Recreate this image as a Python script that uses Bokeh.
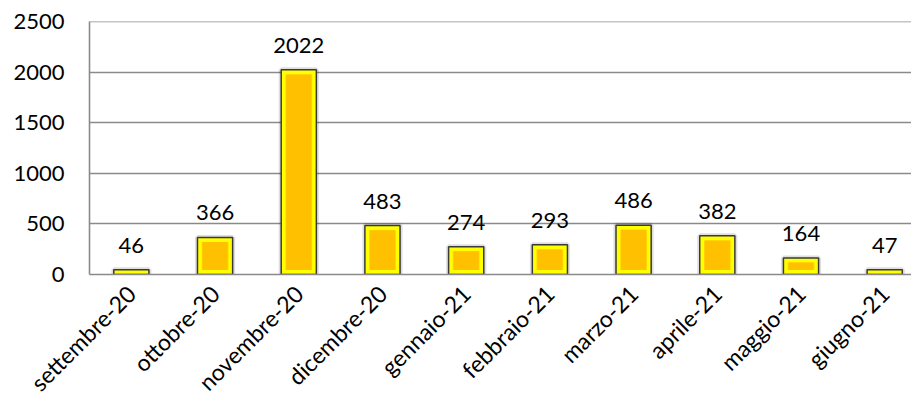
import numpy as np
from bokeh.plotting import figure
from bokeh.models import Range1d, FixedTicker, ColumnDataSource, LabelSet, Span
from bokeh.core.properties import value
from bokeh.embed import file_html
from bokeh.resources import INLINE

months = ["settembre-20", "ottobre-20", "novembre-20", "dicembre-20", "gennaio-21",
          "febbraio-21", "marzo-21", "aprile-21", "maggio-21", "giugno-21"]
values = [46, 366, 2022, 483, 274, 293, 486, 382, 164, 47]
y_ticks = [0, 500, 1000, 1500, 2000, 2500]

FONT = "Lato"
BAR_W = 0.42
INSET_X = 0.06
INSET_Y = 45
GRID = "#8a8a8a"

xs = list(range(len(months)))
inner_top = [max(v - INSET_Y, INSET_Y) for v in values]
src = ColumnDataSource(dict(x=xs, v=values, inner_top=inner_top,
                            label=[str(v) for v in values]))

p = figure(width=911, height=409, output_backend="svg", toolbar_location=None,
           x_range=Range1d(-0.5, len(months) - 0.68), y_range=Range1d(0, y_ticks[-1]),
           min_border_left=89, min_border_right=0, min_border_top=21, min_border_bottom=135)
p.outline_line_color = None
p.background_fill_color = "white"
p.border_fill_color = "white"

p.xgrid.visible = False
p.ygrid.grid_line_color = GRID
p.ygrid.grid_line_width = 1.6
p.ygrid.ticker = FixedTicker(ticks=y_ticks)
p.add_layout(Span(location=y_ticks[-1], dimension="width", line_color=GRID, line_width=1.6))

# y axis
p.yaxis.ticker = FixedTicker(ticks=y_ticks)
p.yaxis.axis_line_color = GRID
p.yaxis.axis_line_width = 1.6
p.yaxis.major_tick_line_color = None
p.yaxis.minor_tick_line_color = None
p.yaxis.major_label_standoff = 19
p.yaxis.major_label_text_font = FONT
p.yaxis.major_label_text_font_size = "22px"
p.yaxis.major_label_text_color = "black"

# x axis
p.xaxis.ticker = FixedTicker(ticks=xs)
p.xaxis.major_label_overrides = {i: m for i, m in zip(xs, months)}
p.xaxis.major_label_orientation = np.pi / 4
p.xaxis.axis_line_color = GRID
p.xaxis.axis_line_width = 1.6
p.xaxis.major_tick_line_color = None
p.xaxis.minor_tick_line_color = None
p.xaxis.major_label_standoff = 9
p.xaxis.major_label_text_font = FONT
p.xaxis.major_label_text_font_size = "23px"
p.xaxis.major_label_text_color = "black"

# shadow halo
p.vbar(x="x", top="v", bottom=0, width=BAR_W, source=src, fill_color=None,
       line_color="black", line_alpha=0.13, line_width=5)
# outer yellow bar with dark outline
p.vbar(x="x", top="v", bottom=0, width=BAR_W, source=src, fill_color="#FFFF00",
       line_color="#3a3a3a", line_width=1.5)
# soft transition
p.vbar(x="x", top="inner_top", bottom=INSET_Y, width=BAR_W - 2 * INSET_X + 0.02, source=src,
       fill_color="#FFD800", line_color=None)
# inner orange
p.vbar(x="x", top="inner_top", bottom=INSET_Y, width=BAR_W - 2 * INSET_X, source=src,
       fill_color="#FFC000", line_color=None)

labels = LabelSet(x="x", y="v", text="label", source=src, text_align="center",
                  text_baseline="alphabetic", y_offset=17,
                  text_font=value(FONT), text_font_size="22px", text_color="black")
p.add_layout(labels)

open("out.html", "w").write(file_html(p, INLINE))
